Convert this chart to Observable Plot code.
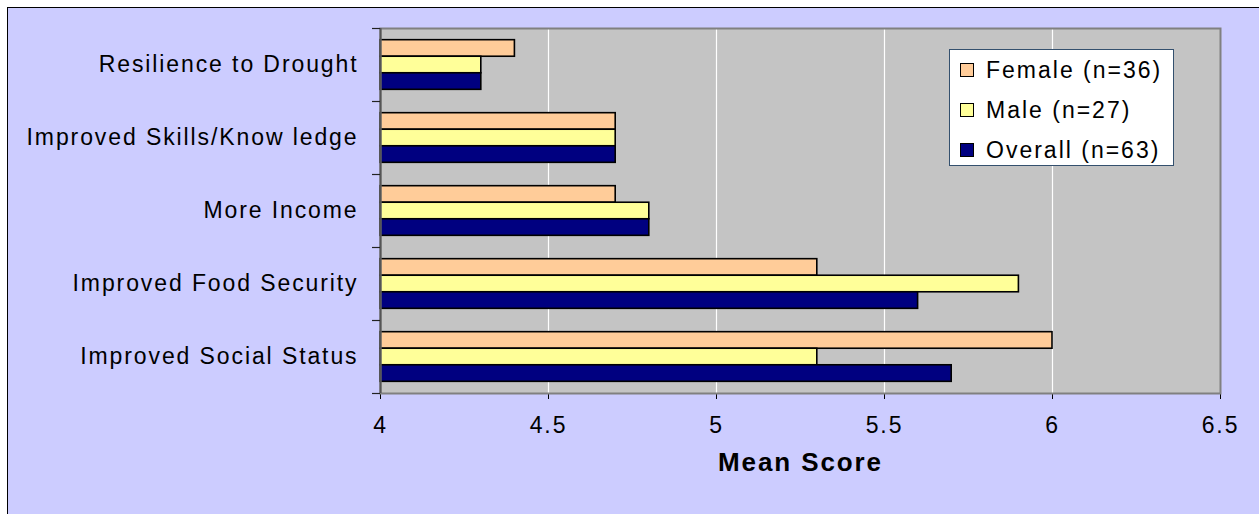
<!DOCTYPE html>
<html>
<head>
<meta charset="utf-8">
<script src="https://cdn.jsdelivr.net/npm/d3@7"></script>
<script src="https://cdn.jsdelivr.net/npm/@observablehq/plot@0.6"></script>
<style>
  html, body { margin: 0; padding: 0; background: #ffffff; }
  #frame {
    position: absolute; left: 7px; top: 7px; width: 1252px; height: 507px;
    border-top: 1px solid #000; border-left: 1px solid #000;
    background: #ccccff; overflow: hidden;
    font-family: "Liberation Sans", Arial, sans-serif;
  }
  #legend {
    position: absolute; left: 941px; top: 41px; width: 223px; height: 115px;
    background: #ffffff; border: 1px solid #34506e;
    font-family: "Liberation Sans", Arial, sans-serif; font-size: 23px; letter-spacing: 2px;
    color: #000;
  }
  #legend .item { position: absolute; left: 10px; height: 26px; display: flex; align-items: center; white-space: nowrap; }
  #legend .sw { width: 12px; height: 12px; border: 1.5px solid #000; margin-right: 12px; }
</style>
</head>
<body>
<div id="frame"><div id="chart"></div><div id="legend"></div></div>
<script>
// ---- data ----
const categories = ["Resilience to Drought", "Improved Skills/Know ledge", "More Income", "Improved Food Security", "Improved Social Status"];
const series = ["Female (n=36)", "Male (n=27)", "Overall (n=63)"];
const female = [4.4, 4.7, 4.7, 5.3, 6.0];
const male = [4.3, 4.7, 4.8, 5.9, 5.3];
const overall = [4.3, 4.7, 4.8, 5.6, 5.7];
const xTicks = [4, 4.5, 5, 5.5, 6, 6.5];
const colors = ["#ffcc99", "#ffff99", "#000080"];
const xLabel = "Mean Score";

// ---- layout ----
const W = 1251, H = 506;
const mL = 372, mR = 39, mT = 20, mB = 121;
const plotW = W - mL - mR;
const step = (H - mT - mB) / categories.length;
const groupPad = step * 0.16;
const barH = (step - 2 * groupPad) / series.length;

const valuesBySeries = [female, male, overall];
const table = categories.flatMap((c, i) => series.map((s, j) => ({category: c, series: s, value: valuesBySeries[j][i], k: j})));

const barMarks = series.map((s, j) => Plot.barX(table.filter(d => d.k === j), {
  x1: () => xTicks[0],
  x2: "value",
  y: "category",
  insetTop: groupPad + j * barH,
  insetBottom: step - groupPad - (j + 1) * barH,
  fill: colors[j],
  stroke: "#000",
  strokeWidth: 1.6
}));

const chart = Plot.plot({
  width: W, height: H,
  marginLeft: mL, marginRight: mR, marginTop: mT, marginBottom: mB,
  style: {background: "transparent", fontFamily: "'Liberation Sans', Arial, sans-serif", fontSize: "23px", letterSpacing: "1.9px", color: "#000"},
  x: {domain: [xTicks[0], xTicks[xTicks.length - 1]], ticks: xTicks, tickFormat: d => String(d), tickSize: 6, tickPadding: 17, line: true, label: null},
  y: {domain: categories, padding: 0, tickSize: 0, tickPadding: 22, line: true, label: null},
  marks: [
    Plot.frame({fill: "#c4c4c4", stroke: "none"}),
    Plot.ruleX(xTicks.slice(1, -1), {stroke: "#ffffff", strokeWidth: 1.2}),
    ...barMarks,
    Plot.frame({fill: "none", stroke: "#808080", strokeWidth: 2}),
    Plot.ruleX([xTicks[0]], {stroke: "#555", strokeWidth: 2}),
    Plot.tickY(categories, {y: d => d, dy: -step / 2, insetLeft: -8, insetRight: plotW, stroke: "#222", strokeWidth: 1.2}),
    Plot.tickY(categories.slice(-1), {y: d => d, dy: step / 2, insetLeft: -8, insetRight: plotW, stroke: "#222", strokeWidth: 1.2}),
    Plot.text([xLabel], {text: d => d, frameAnchor: "bottom", dy: 77, fontWeight: "bold", fontSize: 26, letterSpacing: "3.9px"})
  ]
});
document.getElementById("chart").appendChild(chart);

// ---- legend ----
const legend = d3.select("#legend");
series.forEach((s, j) => {
  const item = legend.append("div").attr("class", "item").style("top", (7 + j * 40) + "px");
  item.append("div").attr("class", "sw").style("background", colors[j]);
  item.append("span").text(s);
});
</script>
</body>
</html>
